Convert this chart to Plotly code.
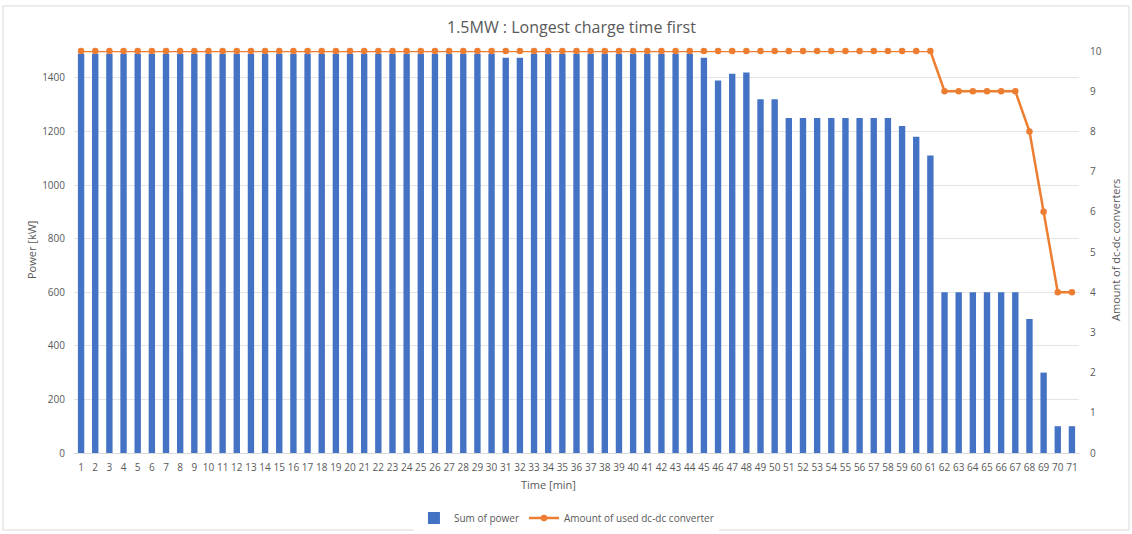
import plotly.graph_objects as go

# Minutes 1..71
minutes = list(range(1, 72))

# Total delivered power per minute [kW]
power_kw = [1490] * 30 + [1475, 1475] + [1490] * 12 + [1475, 1390, 1415, 1420, 1320, 1320] \
    + [1250] * 8 + [1220, 1180, 1110] + [600] * 6 + [500, 300, 100, 100]

# Number of dc-dc converters in use per minute
converters = [10] * 61 + [9] * 6 + [8, 6, 4, 4]

W, H = 1132, 534
L, R, T, B = 74, 53, 51, 81

font_family = "Open Sans, Liberation Sans, sans-serif"
grey = "#595959"

fig = go.Figure()
fig.add_trace(go.Bar(
    x=minutes, y=power_kw, name="Sum of power",
    marker=dict(color="#4472C4", line=dict(width=0)),
    yaxis="y",
))
fig.add_trace(go.Scatter(
    x=minutes, y=converters, name="Amount of used dc-dc converter",
    mode="lines+markers",
    line=dict(color="#ED7D31", width=2.5),
    marker=dict(color="#ED7D31", size=6.5),
    cliponaxis=False,
    yaxis="y2",
))

fig.update_layout(
    width=W, height=H,
    margin=dict(l=L, r=R, t=T, b=B, autoexpand=False),
    paper_bgcolor="white", plot_bgcolor="white",
    font=dict(family=font_family, color=grey, size=10),
    bargap=0.55,
    showlegend=True,
    legend=dict(orientation="h", x=0.49, xanchor="center", y=-0.162, yanchor="middle",
                font=dict(size=10, color=grey), traceorder="normal"),
    xaxis=dict(
        range=[0.5, 71.5], tickmode="linear", tick0=1, dtick=1,
        tickangle=0, showgrid=False, zeroline=False, showline=True, linecolor="#D9D9D9",
        ticks="", tickfont=dict(size=10, color=grey), ticklabelstandoff=5,
    ),
    yaxis=dict(
        range=[0, 1500], dtick=200, tick0=0, showgrid=True, gridcolor="#E4E4E4",
        zeroline=False, showline=False, ticks="", tickfont=dict(size=10, color=grey),
        ticklabelstandoff=8,
    ),
    yaxis2=dict(
        range=[0, 10], dtick=1, tick0=0, overlaying="y", side="right", showgrid=False,
        zeroline=False, showline=False, ticks="", tickfont=dict(size=10, color=grey),
        ticklabelstandoff=10,
    ),
    annotations=[
        dict(text="1.5MW : Longest charge time first", x=571, y=H - 27, showarrow=False,
             font=dict(size=16, color=grey)),
        dict(text="Time [min]", x=548, y=H - 484, showarrow=False, font=dict(size=11, color=grey)),
        dict(text="Power [kW]", x=31, y=H - 250, textangle=-90, showarrow=False,
             font=dict(size=11, color=grey)),
        dict(text="Amount of dc-dc converters", x=1115, y=H - 250, textangle=-90, showarrow=False,
             font=dict(size=11, color=grey)),
    ],
)

# Place the free-standing labels in pixel terms
for a in fig.layout.annotations:
    a.xref = "paper"
    a.yref = "paper"
    a.x = (a.x - L) / (W - L - R)
    a.y = (a.y - B) / (H - T - B)
    a.xanchor = "center"
    a.yanchor = "middle"

# Light outer frame of the chart
fig.add_shape(type="rect", xref="paper", yref="paper",
              x0=(3 - L) / (W - L - R), x1=(1129 - L) / (W - L - R),
              y0=(H - 530 - B) / (H - T - B), y1=(H - 6 - B) / (H - T - B),
              line=dict(color="#D9D9D9", width=1), fillcolor="rgba(0,0,0,0)", layer="below")

fig.write_html("out.html")
